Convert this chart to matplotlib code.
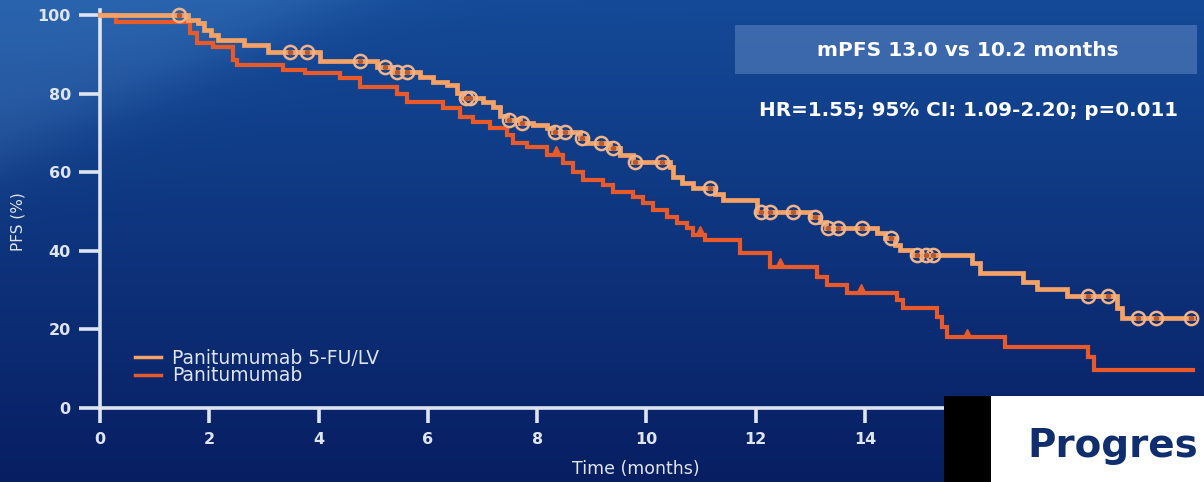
import numpy as np
import matplotlib.pyplot as plt
from matplotlib.patches import Rectangle

plt.rcParams['font.family'] = ['DejaVu Sans']

# Kaplan-Meier steps, time in months, PFS in %
t_combo = [0, 1.61, 1.79, 1.90, 2.03, 2.16, 2.64, 3.08, 4.03, 5.07, 5.36, 5.86, 6.10,
           6.35, 6.54, 6.65, 7.01, 7.20, 7.32, 7.45, 7.69, 7.93, 8.18, 8.29, 8.79, 8.91,
           9.33, 9.52, 9.76, 10.43, 10.49, 10.65, 10.85, 11.25, 11.40, 12.02, 12.99,
           13.18, 13.29, 14.22, 14.37, 14.55, 14.64, 14.86, 15.96, 16.11, 16.89, 17.15,
           17.70, 18.61, 18.70, 20.0]
s_combo = [100, 98.7, 98.0, 96.2, 95.0, 93.6, 92.4, 90.6, 88.3, 86.8, 85.5, 84.2, 83.0,
           82.2, 80.2, 78.9, 77.9, 76.6, 74.3, 73.3, 72.5, 72.0, 71.3, 70.2, 68.7, 67.4,
           66.2, 64.4, 62.6, 61.3, 58.8, 57.3, 56.0, 54.5, 52.9, 50.0, 48.6,
           47.3, 45.8, 44.5, 43.3, 41.5, 40.2, 38.9, 37.0, 34.3, 32.0, 30.3,
           28.5, 25.5, 23.0, 23.0]
cens_combo = [1.45, 3.48, 3.79, 4.76, 5.22, 5.44, 5.62, 6.70, 6.78, 7.48, 7.73, 8.32,
              8.51, 8.82, 9.16, 9.38, 9.80, 10.29, 11.17, 12.09, 12.27, 12.69, 13.09,
              13.33, 13.51, 13.95, 14.47, 14.96, 15.11, 15.25, 18.08, 18.44, 18.99,
              19.32, 19.96]

t_mono = [0, 0.30, 1.65, 1.77, 2.07, 2.43, 2.51, 3.35, 3.75, 4.39, 4.76, 5.44, 5.62,
          6.28, 6.59, 6.83, 7.14, 7.45, 7.56, 7.82, 8.18, 8.48, 8.66, 8.84, 9.21, 9.39,
          9.76, 9.94, 10.12, 10.38, 10.56, 10.74, 10.85, 11.07, 11.71, 12.26, 13.12,
          13.30, 13.67, 14.59, 14.70, 15.32, 15.41, 15.50, 16.56, 18.08, 18.19, 20.0]
s_mono = [100, 98.3, 95.4, 93.0, 91.9, 88.5, 87.3, 86.0, 85.2, 84.0, 81.7, 80.0, 77.9,
          76.3, 74.0, 72.8, 71.2, 69.5, 67.4, 66.4, 64.4, 62.3, 60.0, 58.0, 56.7, 55.0,
          53.7, 52.2, 50.4, 48.6, 47.0, 45.8, 44.0, 42.7, 39.4, 35.9, 33.3,
          31.3, 29.3, 27.5, 25.4, 23.2, 20.6, 18.0, 15.5, 13.0, 9.7, 9.7]
cens_mono = [8.35, 10.98, 12.45, 13.92, 15.87]

x_ticks = [0, 2, 4, 6, 8, 10, 12, 14]
y_ticks = [0, 20, 40, 60, 80, 100]

labels = ['Panitumumab 5-FU/LV', 'Panitumumab']
c_combo = '#f4a266'
c_mono = '#e85a2a'
fg = '#dfe5f0'


def at_time(t, s, c):
    t = np.asarray(t)
    s = np.asarray(s)
    return s[np.searchsorted(t, c, side='right') - 1]


W, H = 1204, 482
fig = plt.figure(figsize=(W / 100, H / 100), dpi=100)

# blue slide background
yy, xx = np.mgrid[0:H, 0:W]
v = yy / H
top = np.array([20, 74, 152]) / 255
bot = np.array([8, 30, 98]) / 255
bg = top[None, None, :] * (1 - v[..., None]) + bot[None, None, :] * v[..., None]
d = xx / 340 + yy / 160
glow = 1 / (1 + np.exp((d - 1) * 8))
bg = bg + glow[..., None] * np.array([22, 26, 22]) / 255
bg = np.clip(bg, 0, 1)
bax = fig.add_axes([0, 0, 1, 1], zorder=0)
bax.imshow(bg, aspect='auto', extent=[0, W, H, 0])
bax.set_xlim(0, W)
bax.set_ylim(H, 0)
bax.axis('off')

px_month = 54.64
ax = fig.add_axes([100 / W, 1 - 408 / H, (W - 100) / W, (408 - 15) / H], zorder=1)
ax.patch.set_alpha(0)
ax.set_xlim(0, (W - 100) / px_month)
ax.set_ylim(0, 100)

ax.step(t_combo, s_combo, where='post', color=c_combo, lw=3.4, clip_on=False,
        solid_joinstyle='miter', label=labels[0], zorder=4)
ax.step(t_mono, s_mono, where='post', color=c_mono, lw=3.0, clip_on=False,
        solid_joinstyle='miter', label=labels[1], zorder=3)
ax.plot(cens_combo, at_time(t_combo, s_combo, cens_combo), 'o', ms=9.5,
        mfc='none', mec='#f0b48c', mew=1.8, clip_on=False, zorder=5)
ax.plot(cens_combo, at_time(t_combo, s_combo, cens_combo), 'o', ms=3,
        color='#b65a34', clip_on=False, zorder=6)
ax.plot(cens_mono, at_time(t_mono, s_mono, cens_mono) + 1.2, '^', ms=6,
        color=c_mono, clip_on=False, zorder=3)

for side in ['top', 'right']:
    ax.spines[side].set_visible(False)
for side in ['left', 'bottom']:
    ax.spines[side].set_color(fg)
    ax.spines[side].set_linewidth(2.6)
ax.spines['left'].set_bounds(0, 101.3)
ax.set_xticks(x_ticks)
ax.set_yticks(y_ticks)
ax.tick_params(axis='y', direction='out', length=15, width=2.6, color=fg,
               labelcolor=fg, labelsize=11.5, pad=6)
ax.tick_params(axis='x', direction='out', length=11, width=2.6, color=fg,
               labelcolor=fg, labelsize=11.5, pad=6)
for lab in ax.get_xticklabels() + ax.get_yticklabels():
    lab.set_fontweight('bold')

fig.text(636 / W, 1 - 469 / H, 'Time (months)', color=fg, fontsize=12.5,
         ha='center', va='center')
fig.text(18 / W, 1 - 222 / H, 'PFS (%)', color=fg, fontsize=11, rotation=90,
         ha='center', va='center')

leg = ax.legend(loc='upper left', bbox_to_anchor=(35 / (W - 100), 1 - (349 - 15) / (408 - 15)),
                frameon=False, fontsize=13.5, handlelength=1.4, handletextpad=0.6,
                labelspacing=-0.1, borderpad=0, borderaxespad=0)
for line in leg.get_lines():
    line.set_linewidth(2.5)
for txt in leg.get_texts():
    txt.set_color(fg)

# summary boxes
fig.patches.append(Rectangle((735 / W, 1 - 74 / H), (1197 - 735) / W, (74 - 25) / H,
                             transform=fig.transFigure, color='#5e86c2', alpha=0.55,
                             zorder=2, lw=0))
fig.text(968 / W, 1 - 50 / H, 'mPFS 13.0 vs 10.2 months', color='white', fontsize=14.5,
         fontweight='bold', ha='center', va='center', zorder=3)
fig.text(968 / W, 1 - 111 / H, 'HR=1.55; 95% CI: 1.09-2.20; p=0.011', color='white',
         fontsize=14.3, fontweight='bold', ha='center', va='center', zorder=3)

# next slide peeking in at the corner
fig.patches.append(Rectangle((944 / W, 0), (991 - 944) / W, (H - 396) / H,
                             transform=fig.transFigure, color='black', zorder=7, lw=0))
fig.patches.append(Rectangle((991 / W, 0), (W - 991) / W, (H - 396) / H,
                             transform=fig.transFigure, color='white', zorder=7, lw=0))
fig.text(1027 / W, 1 - 457 / H, 'Progres', color='#102e6e',
         fontsize=28, fontweight='bold', ha='left', va='baseline', zorder=8)

fig.savefig('out.png', dpi=100)
